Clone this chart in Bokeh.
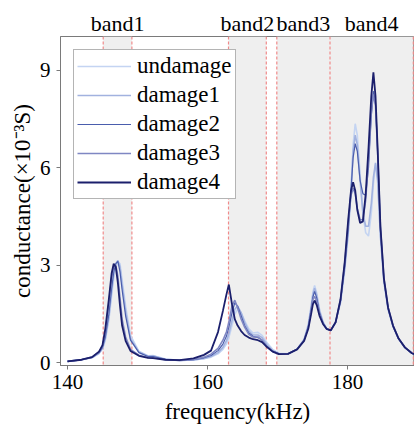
from bokeh.plotting import figure
from bokeh.models import (Range1d, FixedTicker, Span, BoxAnnotation,
                          Legend, LegendItem, LinearAxis)
from bokeh.embed import file_html
from bokeh.resources import INLINE

# ---------------- data ----------------
freq = [140, 142, 143.5, 144.5, 145.0,
        145.4, 145.9, 146.3, 146.6, 146.9,
        147.2, 147.5, 147.8, 148.3, 149.0,
        150.2, 151.5, 152.2, 154, 156,
        158, 159.5, 160.5, 161.5, 162.2,
        162.7, 163.05, 163.5, 163.9, 164.3,
        164.8, 165.3, 165.9, 166.5, 167.2,
        167.8, 168.5, 169.3, 170.2, 171.5,
        172.8, 173.8, 174.4, 174.8, 175.05,
        175.3, 175.6, 176.0, 176.5, 177.0,
        177.6, 178.3, 179.0, 179.6, 180.1,
        180.5, 180.8, 181.1, 181.4, 181.8,
        182.2, 182.6, 183.0, 183.4, 183.7,
        184.0, 184.3, 184.7, 185.2, 185.8,
        186.5, 187.3, 188.2, 189.2, 190]

undamage = [0.05, 0.10, 0.16, 0.29, 0.43,
            0.70, 1.30, 2.05, 2.60, 2.95,
            3.10, 3.05, 2.55, 1.75, 0.85,
            0.36, 0.22, 0.23, 0.12, 0.08,
            0.09, 0.13, 0.18, 0.28, 0.42,
            0.58, 0.78, 1.15, 1.50, 1.65,
            1.55, 1.30, 1.05, 0.92, 0.94,
            0.85, 0.62, 0.42, 0.30, 0.28,
            0.42, 0.72, 1.20, 1.75, 2.18,
            2.38, 2.15, 1.65, 1.27, 1.07,
            1.00, 1.25, 1.85, 2.85, 3.95,
            5.30, 6.70, 7.35, 7.00, 5.80,
            4.60, 4.00, 3.90, 4.60, 5.50,
            6.10, 5.70, 3.90, 2.50, 1.65,
            1.12, 0.74, 0.47, 0.30, 0.23]

damage1 = [0.05, 0.10, 0.17, 0.30, 0.45,
           0.75, 1.40, 2.20, 2.75, 3.05,
           3.15, 2.95, 2.40, 1.60, 0.75,
           0.34, 0.21, 0.22, 0.11, 0.08,
           0.09, 0.14, 0.20, 0.32, 0.48,
           0.68, 0.90, 1.30, 1.65, 1.75,
           1.55, 1.25, 0.98, 0.86, 0.86,
           0.78, 0.56, 0.38, 0.29, 0.28,
           0.42, 0.72, 1.15, 1.70, 2.10,
           2.30, 2.08, 1.60, 1.25, 1.06,
           1.00, 1.25, 1.88, 2.90, 4.00,
           5.30, 6.50, 7.00, 6.70, 5.60,
           4.60, 4.20, 4.20, 4.90, 5.70,
           6.15, 5.60, 3.90, 2.50, 1.65,
           1.12, 0.74, 0.47, 0.30, 0.23]

damage2 = [0.05, 0.10, 0.17, 0.32, 0.48,
           0.80, 1.50, 2.30, 2.80, 3.05,
           3.12, 2.80, 2.25, 1.45, 0.70,
           0.32, 0.20, 0.20, 0.11, 0.08,
           0.10, 0.16, 0.23, 0.38, 0.58,
           0.82, 1.10, 1.55, 1.85, 1.75,
           1.45, 1.15, 0.92, 0.82, 0.78,
           0.70, 0.50, 0.37, 0.28, 0.28,
           0.42, 0.70, 1.12, 1.65, 2.02,
           2.20, 2.00, 1.55, 1.23, 1.05,
           1.00, 1.25, 1.90, 2.95, 4.10,
           5.30, 6.30, 6.74, 6.50, 5.60,
           5.20, 5.15, 6.00, 7.60, 8.35,
           8.00, 6.50, 4.10, 2.55, 1.68,
           1.13, 0.74, 0.47, 0.30, 0.23]

damage3 = [0.05, 0.10, 0.18, 0.34, 0.52,
           0.95, 1.80, 2.60, 2.98, 3.00,
           2.65, 2.00, 1.35, 0.80, 0.42,
           0.24, 0.17, 0.16, 0.10, 0.08,
           0.11, 0.18, 0.27, 0.45, 0.70,
           0.95, 1.25, 1.75, 1.93, 1.70,
           1.35, 1.10, 0.88, 0.80, 0.80,
           0.70, 0.50, 0.36, 0.28, 0.28,
           0.42, 0.70, 1.10, 1.60, 1.95,
           2.05, 1.90, 1.50, 1.22, 1.05,
           1.00, 1.25, 1.95, 3.05, 4.30,
           5.15, 5.37, 5.20, 4.75, 4.40,
           4.40, 5.00, 6.30, 7.70, 8.25,
           7.90, 6.50, 4.20, 2.60, 1.70,
           1.15, 0.75, 0.48, 0.30, 0.24]

damage4 = [0.05, 0.10, 0.18, 0.35, 0.55,
           1.05, 1.95, 2.75, 3.05, 2.95,
           2.45, 1.75, 1.15, 0.68, 0.37,
           0.22, 0.16, 0.15, 0.10, 0.09,
           0.14, 0.25, 0.38, 0.95, 1.60,
           2.10, 2.41, 1.80, 1.35, 1.15,
           0.98, 0.86, 0.78, 0.73, 0.70,
           0.64, 0.49, 0.35, 0.27, 0.28,
           0.42, 0.68, 1.05, 1.50, 1.80,
           1.92, 1.78, 1.45, 1.20, 1.05,
           1.00, 1.25, 1.95, 3.10, 4.40,
           5.30, 5.55, 5.30, 4.70, 4.30,
           4.35, 5.20, 6.60, 8.20, 8.93,
           8.20, 6.60, 4.20, 2.60, 1.70,
           1.15, 0.75, 0.48, 0.30, 0.24]

series_names = ["undamage", "damage1", "damage2", "damage3", "damage4"]
series_values = [undamage, damage1, damage2, damage3, damage4]
series_colors = ["#c4d4f2", "#a2b2df", "#4a5dad", "#7f87c3", "#1b1f6c"]
series_widths = [1.6, 1.6, 1.2, 1.6, 1.8]

band_names = ["band1", "band2", "band3", "band4"]
band_left = [145.1, 163.0, 169.9, 177.5]
band_right = [149.2, 168.4, 177.5, 189.4]

x_ticks = [140, 160, 180]
y_ticks = [0, 3, 6, 9]

FONT = "Liberation Serif"

p = figure(width=414, height=426, output_backend="svg", toolbar_location=None,
           x_range=Range1d(139.0, 189.57), y_range=Range1d(-0.077, 10.03),
           min_border_left=60, min_border_right=0, min_border_top=36,
           min_border_bottom=61)

p.background_fill_color = "white"
p.border_fill_color = "white"
p.grid.visible = False
p.outline_line_color = "#7a7a7a"
p.outline_line_width = 1

# shaded bands and dashed red boundaries
for l, r in zip(band_left, band_right):
    p.add_layout(BoxAnnotation(left=l, right=r, fill_color="#efefef",
                               fill_alpha=1.0, line_color=None, level="underlay"))
edges = sorted(set(band_left + band_right))
for e in edges:
    p.add_layout(Span(location=e, dimension="height", line_color="#f08a8a",
                      line_dash="3 2", line_width=1.2, level="underlay"))

renderers = []
for name, vals, col, w in zip(series_names, series_values, series_colors, series_widths):
    r = p.line(freq, vals, line_color=col, line_width=w)
    renderers.append((name, r))

legend = Legend(items=[LegendItem(label=n, renderers=[r]) for n, r in renderers],
                location="top_left", margin=13)
legend.label_text_font = FONT
legend.label_text_font_size = "23px"
legend.label_text_color = "black"
legend.glyph_width = 54
legend.glyph_height = 20
legend.label_standoff = 6
legend.padding = 3
legend.spacing = 3
legend.border_line_color = "#6a6a6a"
legend.border_line_width = 1
legend.background_fill_color = "white"
legend.background_fill_alpha = 1.0
p.add_layout(legend)

# band names as an axis above the frame
band_centers = [round((l + r) / 2, 2) for l, r in zip(band_left, band_right)]
top_axis = LinearAxis(ticker=FixedTicker(ticks=band_centers),
                      major_label_overrides={c: n for c, n in zip(band_centers, band_names)})
top_axis.axis_line_color = None
top_axis.major_tick_line_color = None
top_axis.minor_tick_line_color = None
top_axis.major_tick_out = 0
top_axis.major_tick_in = 0
top_axis.major_label_text_font = FONT
top_axis.major_label_text_font_size = "22px"
top_axis.major_label_text_color = "black"
top_axis.major_label_standoff = 1
p.add_layout(top_axis, "above")

bottom_axis = p.below[0]
left_axis = p.left[0]
bottom_axis.ticker = FixedTicker(ticks=x_ticks)
left_axis.ticker = FixedTicker(ticks=y_ticks)
for ax in (bottom_axis, left_axis):
    ax.axis_line_color = "#7a7a7a"
    ax.major_tick_line_color = "#7a7a7a"
    ax.major_tick_in = 0
    ax.major_tick_out = 4
    ax.minor_tick_line_color = None
    ax.major_label_text_font = FONT
    ax.major_label_text_font_size = "21px"
    ax.major_label_text_color = "black"
    ax.axis_label_text_font = FONT
    ax.axis_label_text_font_size = "23px"
    ax.axis_label_text_font_style = "normal"
    ax.axis_label_text_color = "black"

bottom_axis.axis_label = "frequency(kHz)"
left_axis.axis_label = "conductance(\u00d710\u207b\u00b3S)"
bottom_axis.major_label_standoff = 5
bottom_axis.axis_label_standoff = 7
left_axis.major_label_standoff = 6
left_axis.axis_label_standoff = 2

open("out.html", "w").write(file_html(p, INLINE))
